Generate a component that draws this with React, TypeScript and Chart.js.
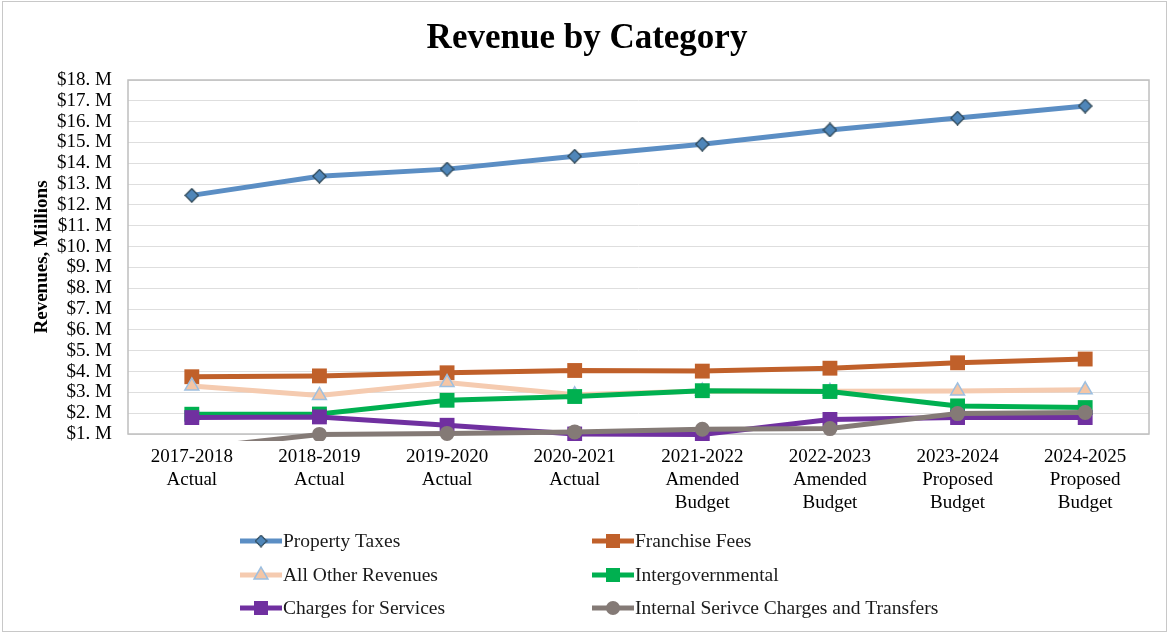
import React, { useEffect, useRef } from "react";
import { Chart, registerables } from "chart.js";

Chart.register(...registerables);

const categories: string[][] = [
  ["2017-2018", "Actual"],
  ["2018-2019", "Actual"],
  ["2019-2020", "Actual"],
  ["2020-2021", "Actual"],
  ["2021-2022", "Amended", "Budget"],
  ["2022-2023", "Amended", "Budget"],
  ["2023-2024", "Proposed", "Budget"],
  ["2024-2025", "Proposed", "Budget"],
];

const seriesNames = [
  "Property Taxes",
  "Franchise Fees",
  "All Other Revenues",
  "Intergovernmental",
  "Charges for Services",
  "Internal Serivce Charges and Transfers",
];

const propertyTaxes = [12.46, 13.38, 13.72, 14.34, 14.92, 15.6, 16.17, 16.75];
const franchiseFees = [3.75, 3.79, 3.94, 4.05, 4.02, 4.16, 4.42, 4.6];
const allOtherRevenues = [3.31, 2.85, 3.47, 2.88, 3.06, 3.05, 3.07, 3.12];
const intergovernmental = [1.95, 1.96, 2.62, 2.8, 3.08, 3.04, 2.35, 2.27];
const chargesForServices = [1.79, 1.82, 1.42, 1.0, 0.98, 1.7, 1.79, 1.79];
const internalService = [0.3, 0.98, 1.03, 1.1, 1.23, 1.26, 1.98, 2.03];

const yMin = 1;
const yMax = 18;

const FONT = "'Liberation Serif', 'Times New Roman', serif";

function makeDiamond(): HTMLCanvasElement {
  const c = document.createElement("canvas");
  c.width = 15;
  c.height = 15;
  const ctx = c.getContext("2d")!;
  ctx.beginPath();
  ctx.moveTo(7.5, 0.8);
  ctx.lineTo(14.2, 7.5);
  ctx.lineTo(7.5, 14.2);
  ctx.lineTo(0.8, 7.5);
  ctx.closePath();
  ctx.fillStyle = "#4f86b9";
  ctx.fill();
  ctx.lineWidth = 1.3;
  ctx.strokeStyle = "#2d4656";
  ctx.stroke();
  return c;
}

export default function App() {
  const ref = useRef<HTMLCanvasElement | null>(null);

  useEffect(() => {
    document.body.style.margin = "0";
    const canvas = ref.current;
    if (!canvas) return;
    const diamond = makeDiamond();

    const colors = ["#5b8ec4", "#c0602a", "#f5cbb0", "#00b050", "#7030a0", "#847a76"];
    const values = [
      propertyTaxes,
      franchiseFees,
      allOtherRevenues,
      intergovernmental,
      chargesForServices,
      internalService,
    ];
    const pointStyles: any[] = [diamond, "rect", "triangle", "rect", "rect", "circle"];
    const radii = [7.5, 10.5, 8, 10.5, 10.5, 7.5];
    const pointBg = ["#4f86b9", "#c0602a", "#f4c6a6", "#00b050", "#7030a0", "#847a76"];
    const pointBorder = ["#2d4656", "#c0602a", "#9dbfe0", "#00b050", "#7030a0", "#847a76"];
    const pointBorderW = [1, 0, 1.5, 0, 0, 0];

    const datasets = seriesNames.map((name, i) => ({
      label: name,
      data: values[i],
      borderColor: colors[i],
      backgroundColor: colors[i],
      borderWidth: 5,
      pointStyle: pointStyles[i],
      pointRadius: radii[i],
      pointHoverRadius: radii[i],
      pointBackgroundColor: pointBg[i],
      pointBorderColor: pointBorder[i],
      pointBorderWidth: pointBorderW[i],
      tension: 0,
      order: seriesNames.length - i,
      clip: { left: 12, top: 12, right: 12, bottom: 7 },
    }));

    const framePlugin = {
      id: "frame",
      beforeDraw(chart: any) {
        const ctx = chart.ctx;
        ctx.save();
        ctx.fillStyle = "#ffffff";
        ctx.fillRect(0, 0, chart.width, chart.height);
        ctx.strokeStyle = "#c8c8c8";
        ctx.lineWidth = 1;
        ctx.strokeRect(2.5, 1.5, chart.width - 5, chart.height - 3);
        ctx.fillStyle = "#000";
        ctx.font = `bold 35px ${FONT}`;
        ctx.textAlign = "center";
        ctx.textBaseline = "middle";
        ctx.fillText("Revenue by Category", 587, 39);
        ctx.restore();
      },
      beforeDatasetsDraw(chart: any) {
        const { left, top, right, bottom } = chart.chartArea;
        const ctx = chart.ctx;
        ctx.save();
        ctx.strokeStyle = "#bfbfbf";
        ctx.lineWidth = 1.5;
        ctx.strokeRect(left, top, right - left, bottom - top);
        ctx.restore();
      },
      afterDraw(chart: any) {
        const ctx = chart.ctx;
        ctx.save();
        const rows = [541, 575, 608];
        const cols = [240, 592];
        chart.data.datasets.forEach((ds: any, i: number) => {
          const x = cols[i % 2];
          const y = rows[Math.floor(i / 2)];
          ctx.strokeStyle = ds.borderColor;
          ctx.lineWidth = 5;
          ctx.beginPath();
          ctx.moveTo(x, y);
          ctx.lineTo(x + 42, y);
          ctx.stroke();
          const cx = x + 21;
          const st = ds.pointStyle;
          ctx.fillStyle = ds.pointBackgroundColor;
          ctx.strokeStyle = ds.pointBorderColor;
          ctx.lineWidth = ds.pointBorderWidth;
          if (st instanceof HTMLCanvasElement) {
            ctx.drawImage(st, cx - 6.5, y - 6.5, 13, 13);
          } else if (st === "rect") {
            const s = 7;
            ctx.fillRect(cx - s, y - s, 2 * s, 2 * s);
          } else if (st === "triangle") {
            const r = 8;
            ctx.beginPath();
            ctx.moveTo(cx, y - r);
            ctx.lineTo(cx + r * 0.866, y + r * 0.5);
            ctx.lineTo(cx - r * 0.866, y + r * 0.5);
            ctx.closePath();
            ctx.fill();
            if (ds.pointBorderWidth > 0) ctx.stroke();
          } else {
            ctx.beginPath();
            ctx.arc(cx, y, 7, 0, Math.PI * 2);
            ctx.fill();
          }
          ctx.fillStyle = "#1a1a1a";
          ctx.font = `19.5px ${FONT}`;
          ctx.textAlign = "left";
          ctx.textBaseline = "middle";
          ctx.fillText(ds.label, x + 43, y + 1);
        });
        ctx.restore();
      },
    };

    const chart = new Chart(canvas, {
      type: "line",
      data: { labels: categories as any, datasets: datasets as any },
      plugins: [framePlugin],
      options: {
        animation: false,
        responsive: false,
        maintainAspectRatio: false,
        events: [],
        layout: { padding: { top: 80, left: 0, right: 20, bottom: 109 } },
        plugins: {
          legend: { display: false },
          title: { display: false },
          tooltip: { enabled: false },
        },
        scales: {
          x: {
            offset: true,
            grid: { display: false, drawTicks: false },
            border: { display: false },
            ticks: {
              color: "#000",
              font: { family: FONT, size: 19, lineHeight: 1.2 },
              padding: 12,
              maxRotation: 0,
              autoSkip: false,
            },
            afterFit(scale: any) {
              scale.height = 90;
            },
          },
          y: {
            min: yMin,
            max: yMax,
            grid: { color: "#dedede", lineWidth: 1, drawTicks: false },
            border: { display: false },
            ticks: {
              stepSize: 1,
              autoSkip: false,
              color: "#000",
              font: { family: FONT, size: 19 },
              padding: 16,
              callback: (v: any) => `$${v}. M`,
            },
            title: {
              display: true,
              text: "Revenues, Millions",
              color: "#000",
              font: { family: FONT, size: 19, weight: "bold" },
              padding: { top: 31, bottom: 0 },
            },
            afterFit(scale: any) {
              scale.width = 128;
            },
          },
        },
      },
    });

    return () => chart.destroy();
  }, []);

  return (
    <div style={{ width: 1169, height: 633 }}>
      <canvas ref={ref} width={1169} height={633} style={{ display: "block" }} />
    </div>
  );
}
